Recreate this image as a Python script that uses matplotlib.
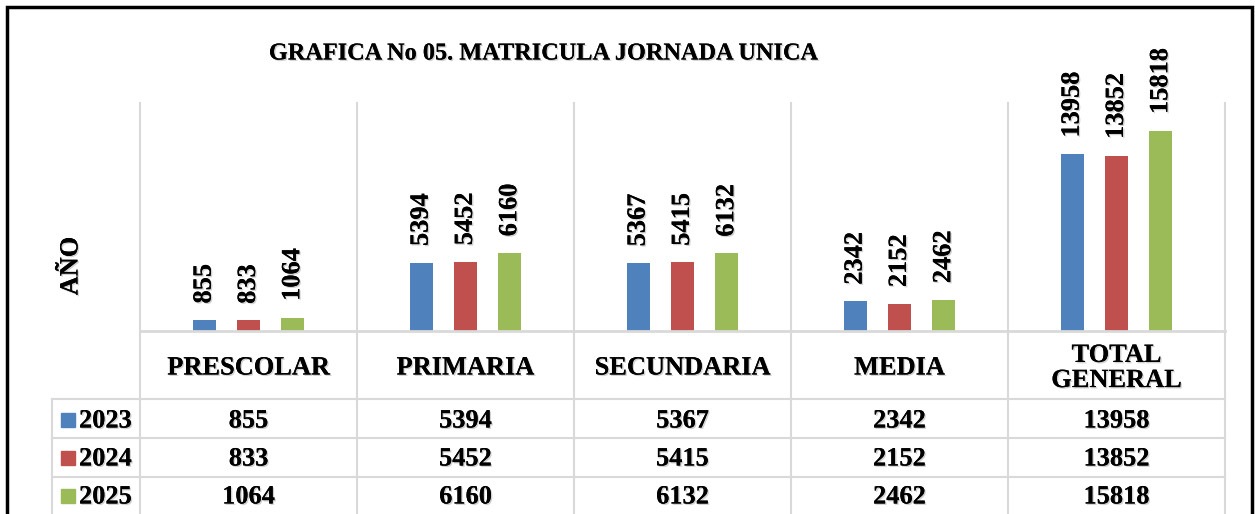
import numpy as np
import matplotlib.pyplot as plt
import matplotlib.patheffects as pe
from matplotlib.transforms import blended_transform_factory
from matplotlib.patches import Rectangle
from matplotlib.lines import Line2D

categories = ['PRESCOLAR', 'PRIMARIA', 'SECUNDARIA', 'MEDIA', 'TOTAL\nGENERAL']
years = ['2023', '2024', '2025']
v2023 = [855, 5394, 5367, 2342, 13958]
v2024 = [833, 5452, 5415, 2152, 13852]
v2025 = [1064, 6160, 6132, 2462, 15818]
series = [v2023, v2024, v2025]
colors = ['#4F81BD', '#C0504D', '#9BBB59']

plt.rcParams['font.family'] = ['Liberation Serif', 'DejaVu Serif']
W, H = 1255, 514
fig = plt.figure(figsize=(W / 100, H / 100), dpi=100)


def fx(px):
    return px / W


def fy(py):
    return 1 - py / H


shadow = [pe.withSimplePatchShadow(offset=(1, -1), shadow_rgbFace='#999999', alpha=0.45), pe.Normal()]
grid_c = '#d9d9d9'
fs = 19

ax = fig.add_axes([fx(140), fy(331), fx(1225) - fx(140), fy(103) - fy(331)])
x = np.arange(len(categories))
for j, vals in enumerate(series):
    pos = x + (j - 1) * 0.204
    ax.bar(pos, vals, width=0.108, color=colors[j], zorder=3)
    for xi, v in zip(pos, vals):
        ax.annotate(str(v), (xi, v), xytext=(0, 12), textcoords='offset points',
                    rotation=90, ha='center', va='bottom', fontsize=fs,
                    fontweight='bold', path_effects=shadow, annotation_clip=False)

ax.set_xlim(-0.5, len(categories) - 0.5)
ax.set_ylim(0, 18000)
ax.axis('off')

# vertical gridlines through plot and table
bt = blended_transform_factory(ax.transData, fig.transFigure)
for b in np.arange(-0.5, len(categories), 1.0):
    fig.add_artist(Line2D([b, b], [0, fy(102.5)], transform=bt, color=grid_c, lw=1.5, zorder=1))

# table horizontal lines
fig.add_artist(Line2D([fx(140), fx(1225)], [fy(331), fy(331)], color=grid_c, lw=2))
for yy in [399, 438, 477]:
    fig.add_artist(Line2D([fx(52), fx(1225)], [fy(yy), fy(yy)], color=grid_c, lw=1.5))
fig.add_artist(Line2D([fx(52), fx(52)], [0, fy(399)], color=grid_c, lw=1.5))

# category header
for xi, c in zip(x, categories):
    fig.text(xi, fy(368), c, transform=bt, ha='center', va='center', fontsize=fs,
             fontweight='bold', linespacing=1.12, path_effects=shadow)

# table rows
row_y = [421, 459, 497]
for j, vals in enumerate(series):
    for xi, v in zip(x, vals):
        fig.text(xi, fy(row_y[j]), str(v), transform=bt, ha='center', va='center',
                 fontsize=fs, fontweight='bold', path_effects=shadow)
    fig.add_artist(Rectangle((fx(61), fy(row_y[j] + 6)), fx(14), fy(0) - fy(14),
                             color=colors[j], transform=fig.transFigure))
    fig.text(fx(79), fy(row_y[j]), years[j], ha='left', va='center', fontsize=fs,
             fontweight='bold', path_effects=shadow)

fig.text(fx(543), fy(54), 'GRAFICA No 05. MATRICULA JORNADA UNICA', ha='center', va='center',
         fontsize=17.5, fontweight='bold', path_effects=shadow)
fig.text(fx(71), fy(266), 'AÑO', ha='center', va='center', rotation=90, fontsize=fs,
         fontweight='bold', path_effects=shadow)

# outer frame
fig.add_artist(Rectangle((fx(6.5), fy(530)), fx(1245), fy(7) - fy(530), fill=False,
                         ec='black', lw=2.5, transform=fig.transFigure))

fig.savefig('out.png', dpi=100)
